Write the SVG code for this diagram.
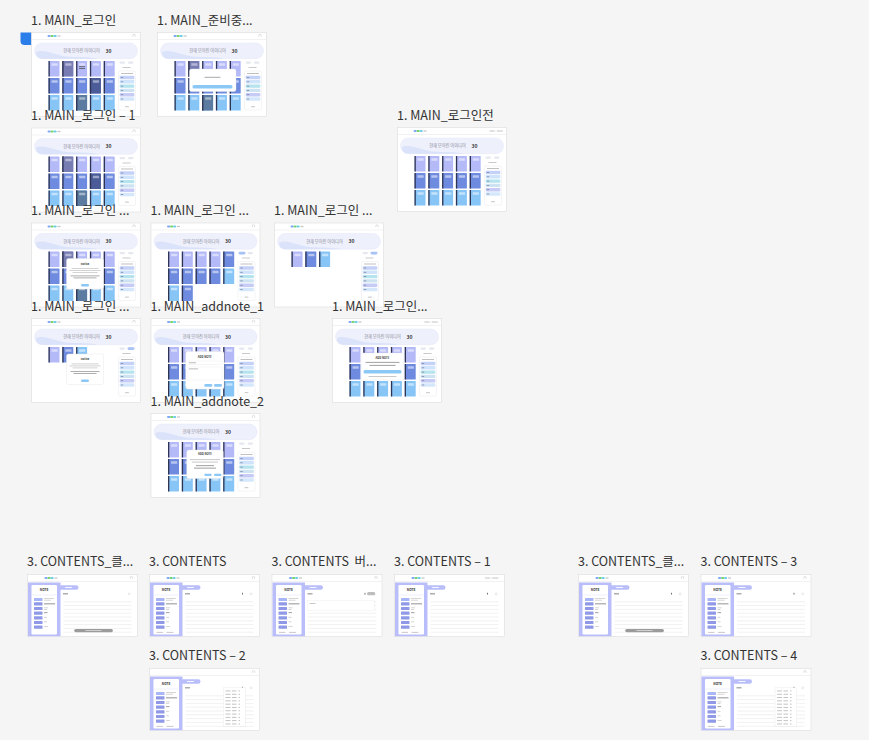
<svg xmlns="http://www.w3.org/2000/svg" width="869" height="740" viewBox="0 0 869 740">
<defs>
<style>
.lbl{font-family:"Noto Sans CJK KR","Noto Sans",sans-serif;font-size:12.5px;fill:#333;white-space:pre}
.t{font-family:"Noto Sans CJK KR","Noto Sans",sans-serif}
.mt{font-size:2.8px;font-weight:700;fill:#333;text-anchor:middle}
.md{fill:#fff;stroke:#e4e4e4;stroke-width:.4}
.bb{fill:#8cc8f5}
.g1{fill:#c8c8c8}
.g2{fill:#999}
.ln{stroke:#e3e3e3;stroke-width:.5}
</style>
<g id="cL"><rect width="11" height="15.5" rx=".6" fill="#b4b9f8"/><rect width="1.3" height="15.5" fill="#2f3452"/><rect x="3" y="2.2" width="6.2" height="2.6" rx=".4" fill="#fff" fill-opacity=".5"/></g>
<g id="cB"><rect width="11" height="15.5" rx=".6" fill="#6e8bdf"/><rect width="1.3" height="15.5" fill="#2f3452"/><rect x="3" y="2.2" width="6.2" height="2.6" rx=".4" fill="#fff" fill-opacity=".5"/></g>
<g id="cS"><rect width="11" height="15.5" rx=".6" fill="#88c5f7"/><rect width="1.3" height="15.5" fill="#2f3452"/><rect x="3" y="2.2" width="6.2" height="2.6" rx=".4" fill="#fff" fill-opacity=".5"/></g>
<g id="cDL"><rect width="11" height="15.5" rx=".6" fill="#777cb2"/><rect width="1.3" height="15.5" fill="#2f3452"/><rect x="3" y="2.2" width="6.2" height="2.6" rx=".4" fill="#fff" fill-opacity=".45"/></g>
<g id="cDB"><rect width="11" height="15.5" rx=".6" fill="#4b5c99"/><rect width="1.3" height="15.5" fill="#2f3452"/><rect x="3" y="2.2" width="6.2" height="2.6" rx=".4" fill="#fff" fill-opacity=".45"/></g>
<g id="cDS"><rect width="11" height="15.5" rx=".6" fill="#5b7ba0"/><rect width="1.3" height="15.5" fill="#2f3452"/><rect x="3" y="2.2" width="6.2" height="2.6" rx=".4" fill="#fff" fill-opacity=".45"/></g>
<g id="grid">
<use href="#cL" x="17" y="28.5"/><use href="#cL" x="30.8" y="28.5"/><use href="#cL" x="44.6" y="28.5"/><use href="#cL" x="58.4" y="28.5"/><use href="#cL" x="72.2" y="28.5"/>
<use href="#cB" x="17" y="45.5"/><use href="#cB" x="30.8" y="45.5"/><use href="#cB" x="44.6" y="45.5"/><use href="#cB" x="58.4" y="45.5"/><use href="#cB" x="72.2" y="45.5"/>
<use href="#cS" x="17" y="62.5"/><use href="#cS" x="30.8" y="62.5"/><use href="#cS" x="44.6" y="62.5"/><use href="#cS" x="58.4" y="62.5"/><use href="#cS" x="72.2" y="62.5"/>
</g>
<g id="logo"><rect x="16" y="2.5" width="3.2" height="2" rx="1" fill="#7ea8f7"/><rect x="19" y="2.5" width="3.2" height="2" rx="1" fill="#76d36d"/><rect x="22" y="2.5" width="3.2" height="2" rx="1" fill="#6ccfe6"/><rect x="26" y="2.9" width="3" height="1.2" fill="#c4c4c4"/></g>
<g id="uIcon"><path d="M-1.2 1.2V0A1.2 1.2 0 0 1 1.2 0V1.2" fill="none" stroke="#b0b0b0" stroke-width=".4"/></g>
<g id="loginTxt"><rect width="5" height="1" fill="#c4c4c4"/><rect x="6" width=".4" height="1" fill="#c4c4c4"/><rect x="7.3" width="6" height="1" fill="#c4c4c4"/></g>
<g id="mainBase">
<rect width="109" height="84" fill="#fff" stroke="#dcdcdc" stroke-width=".6"/>
<line x1="0" y1="7" x2="109" y2="7" stroke="#e4e4e4" stroke-width=".5"/>
<rect x="3" y="10.5" width="103" height="15.7" rx="7.8" fill="#eef0fc" stroke="#e0e4f7" stroke-width=".4"/>
<path d="M4.5 19.5C14 15.5 26 25 44 24.6C54 24.4 62 25.4 66 26.2L10 26.2C6 25.5 4.5 23 4.5 19.5Z" fill="#d6e0fa" opacity=".8"/>
<text class="t" x="50" y="19.9" font-size="4.2" fill="#8a8a96" text-anchor="middle">현재 모아진 아이디어</text>
<text class="t" x="74" y="20.3" font-size="5" font-weight="700" fill="#333">30</text>
<rect x="88" y="29" width="5.5" height="2.2" rx="1.1" fill="#e6e8ef"/>
<rect x="96.5" y="29" width="5.5" height="2.2" rx="1.1" fill="#e6e8ef"/>
<rect x="91" y="34.5" width="8" height="1" fill="#c9c9c9"/>
<rect x="87" y="38.5" width="17" height="39" rx="1.5" fill="#fff" stroke="#e2e4ec" stroke-width=".4"/>
<rect x="89.5" y="40.5" width="12" height="1" fill="#c0c0c0"/>
<rect x="88.2" y="43.3" width="14.6" height="3.4" rx=".7" fill="#c5d2f8"/>
<rect x="88.2" y="47.6" width="14.6" height="3.4" rx=".7" fill="#cfe4fb"/>
<rect x="88.2" y="51.9" width="14.6" height="3.4" rx=".7" fill="#b5e3ee"/>
<rect x="88.2" y="56.2" width="14.6" height="3.4" rx=".7" fill="#cde3f2"/>
<rect x="88.2" y="60.5" width="14.6" height="3.4" rx=".7" fill="#c6ccf5"/>
<rect x="88.2" y="64.8" width="14.6" height="3.4" rx=".7" fill="#d5e7fb"/>
<g fill="#7d84a8"><rect x="89.3" y="44.6" width="2.4" height=".8"/><rect x="89.3" y="48.9" width="2.4" height=".8"/><rect x="89.3" y="53.2" width="2.4" height=".8"/><rect x="89.3" y="57.5" width="2.4" height=".8"/><rect x="89.3" y="61.8" width="2.4" height=".8"/><rect x="89.3" y="66.1" width="2.4" height=".8"/></g>
<rect x="93.5" y="73.5" width="4" height="1.3" rx=".6" fill="#cfcfcf"/>
</g>
<g id="cBase">
<rect width="110" height="62" fill="#fff" stroke="#dcdcdc" stroke-width=".6"/>
<line x1="0" y1="7" x2="110" y2="7" stroke="#e4e4e4" stroke-width=".5"/>
<rect x=".5" y="8" width="32.5" height="53.7" fill="#b9befa"/>
<rect x="30" y="10.8" width="21" height="4.4" rx="2.2" fill="#b9befa"/>
<rect x="37.5" y="12.5" width="7" height="1" fill="#fff" opacity=".85"/>
<rect x="4" y="10.5" width="25.5" height="49.5" rx="1.2" fill="#fff"/>
<text class="t" x="16.7" y="16.4" font-size="3.2" font-weight="700" fill="#333" text-anchor="middle">NOTE</text>
<line x1="4.5" y1="20.5" x2="29" y2="20.5" stroke="#dfe2fb" stroke-width=".5"/>
<rect x="6.5" y="23.4" width="8.5" height="3.2" rx=".5" fill="#a8b6f7"/>
<rect x="6.5" y="27.8" width="8.5" height="3.2" rx=".5" fill="#8f99e7"/>
<rect x="6.5" y="32.4" width="8.5" height="3.2" rx=".5" fill="#8f99e7"/>
<rect x="6.5" y="37.1" width="8.5" height="3.2" rx=".5" fill="#8f99e7"/>
<rect x="6.5" y="41.7" width="8.5" height="3.2" rx=".5" fill="#8f99e7"/>
<rect x="6.5" y="46.4" width="8.5" height="3.2" rx=".5" fill="#8f99e7"/>
<rect x="6.5" y="51" width="8.5" height="3.2" rx=".5" fill="#8f99e7"/>
<g fill="#c4c4c4"><rect x="16.5" y="23.8" width="10" height=".7"/><rect x="16.5" y="25.3" width="7" height=".7"/><rect x="16.5" y="33" width="4" height=".7"/><rect x="16.5" y="34.5" width="3" height=".7"/><rect x="16.5" y="42.4" width="3" height=".7"/><rect x="16.5" y="47" width="3" height=".7"/><rect x="16.5" y="51.7" width="4" height=".7"/></g>
<rect x="16.5" y="28.9" width="11" height=".9" fill="#888"/>
<rect x="16.5" y="37.8" width="3.5" height=".8" fill="#888"/>
<rect x="35.5" y="18.7" width="5" height="1.2" fill="#9a9a9a"/>
<circle cx="101.7" cy="19.3" r="1" fill="none" stroke="#ccc" stroke-width=".4"/>
<g class="ln"><line x1="36" y1="27.3" x2="104" y2="27.3"/><line x1="36" y1="31.1" x2="104" y2="31.1"/><line x1="36" y1="34.9" x2="104" y2="34.9"/><line x1="36" y1="38.7" x2="104" y2="38.7"/><line x1="36" y1="42.5" x2="104" y2="42.5"/><line x1="36" y1="46.3" x2="104" y2="46.3"/><line x1="36" y1="50.1" x2="104" y2="50.1"/><line x1="36" y1="53.9" x2="104" y2="53.9"/><line x1="36" y1="57.7" x2="104" y2="57.7"/></g>
</g>
<g id="cFoot" fill="#bbb"><rect x="7" y="57.4" width="6.5" height=".8"/><rect x="17" y="57.4" width="7" height=".8"/></g>
<g id="cDrop"><rect x="74" y="19.3" width="21.7" height="38.4" fill="#fff" stroke="#e6e6e6" stroke-width=".4"/>
<g fill="#bdbdbd"><rect x="76" y="22" width="5" height=".9"/><rect x="82.5" y="22" width="4.5" height=".9"/><rect x="89" y="22" width="1.5" height=".9"/>
<rect x="76" y="25.3" width="5" height=".9"/><rect x="82.5" y="25.3" width="4.5" height=".9"/><rect x="89" y="25.3" width="1.5" height=".9"/>
<rect x="76" y="28.6" width="5" height=".9"/><rect x="82.5" y="28.6" width="4.5" height=".9"/><rect x="89" y="28.6" width="1.5" height=".9"/>
<rect x="76" y="31.9" width="5" height=".9"/><rect x="82.5" y="31.9" width="4.5" height=".9"/><rect x="89" y="31.9" width="1.5" height=".9"/>
<rect x="76" y="35.2" width="5" height=".9"/><rect x="82.5" y="35.2" width="4.5" height=".9"/><rect x="89" y="35.2" width="1.5" height=".9"/>
<rect x="76" y="38.5" width="5" height=".9"/><rect x="82.5" y="38.5" width="4.5" height=".9"/><rect x="89" y="38.5" width="1.5" height=".9"/>
<rect x="76" y="41.8" width="5" height=".9"/><rect x="82.5" y="41.8" width="4.5" height=".9"/><rect x="89" y="41.8" width="1.5" height=".9"/>
<rect x="76" y="45.1" width="5" height=".9"/><rect x="82.5" y="45.1" width="4.5" height=".9"/><rect x="89" y="45.1" width="1.5" height=".9"/>
<rect x="76" y="48.4" width="5" height=".9"/><rect x="82.5" y="48.4" width="4.5" height=".9"/><rect x="89" y="48.4" width="1.5" height=".9"/>
<rect x="76" y="51.7" width="5" height=".9"/><rect x="82.5" y="51.7" width="4.5" height=".9"/><rect x="89" y="51.7" width="1.5" height=".9"/>
<rect x="76" y="55" width="5" height=".9"/><rect x="82.5" y="55" width="4.5" height=".9"/><rect x="89" y="55" width="1.5" height=".9"/></g></g>
<g id="notice">
<rect class="md" x="35" y="35.5" width="37" height="30.5" rx="2"/>
<text class="t mt" x="53.5" y="41.6">notice</text>
<rect class="g1" x="40" y="45" width="27" height=".8"/><rect class="g1" x="38" y="47" width="31" height=".8"/><rect class="g1" x="41" y="49" width="25" height=".8"/>
<rect class="g2" x="39" y="52.5" width="29" height=".8"/><rect class="g2" x="42" y="54.5" width="23" height=".8"/>
<rect class="bb" x="49.5" y="61" width="8" height="2.4" rx="1.2"/>
</g>
</defs>
<rect width="869" height="740" fill="#f5f5f5"/>

<g id="f1">
<path d="M20.5 32.5H31.5V45H24.5A4 4 0 0 1 20.5 41Z" fill="#2b7de9"/>
<text class="lbl" x="31" y="24.5">1. MAIN_로그인</text>
<g transform="translate(31.5,32.5)"><use href="#mainBase"/><use href="#logo"/><use href="#uIcon" x="102.5" y="3"/><use href="#grid"/>
<use href="#cDL" x="30.8" y="28.5"/><use href="#cDB" x="58.4" y="45.5"/><use href="#cDS" x="44.6" y="62.5"/>
<rect x="47.5" y="33.8" width="6" height=".8" fill="#555"/><rect x="47.5" y="35.6" width="6" height=".8" fill="#555"/></g>
</g>
<g id="f2">
<text class="lbl" x="157" y="24.5">1. MAIN_준비중...</text>
<g transform="translate(157.5,32.5)"><use href="#mainBase"/><use href="#logo"/><use href="#uIcon" x="102.5" y="3"/><use href="#grid"/>
<use href="#cDL" x="30.8" y="28.5"/><use href="#cDS" x="44.6" y="62.5"/>
<rect class="md" x="32" y="36.5" width="46.5" height="22.5" rx="2"/>
<rect x="47" y="44.3" width="16" height="1" fill="#aaa"/>
<rect class="bb" x="35" y="52.5" width="40" height="3.6" rx="1.6"/></g>
</g>
<g id="f3">
<text class="lbl" x="31" y="120">1. MAIN_로그인 – 1</text>
<g transform="translate(31.5,128)"><use href="#mainBase"/><use href="#logo"/><use href="#uIcon" x="102.5" y="3"/><use href="#grid"/>
<use href="#cDL" x="30.8" y="28.5"/><use href="#cDB" x="58.4" y="45.5"/><use href="#cDS" x="44.6" y="62.5"/></g>
</g>
<g id="f4">
<text class="lbl" x="397" y="119.5">1. MAIN_로그인전</text>
<g transform="translate(397.5,127.5)"><use href="#mainBase"/><use href="#logo"/><use href="#loginTxt" x="92" y="3"/><use href="#grid"/></g>
</g>
<g id="f5">
<text class="lbl" x="31" y="215">1. MAIN_로그인 ...</text>
<g transform="translate(31.5,223)"><use href="#mainBase"/><use href="#logo"/><use href="#uIcon" x="102.5" y="3"/><use href="#grid"/>
<use href="#cDL" x="30.8" y="28.5"/><use href="#cDS" x="44.6" y="62.5"/><use href="#notice"/></g>
</g>
<g id="f6">
<text class="lbl" x="150.5" y="215">1. MAIN_로그인 ...</text>
<g transform="translate(151,223)"><use href="#mainBase"/><use href="#logo"/><use href="#uIcon" x="102.5" y="3"/>
<use href="#cL" x="17" y="28.5"/><use href="#cL" x="30.8" y="28.5"/><use href="#cL" x="44.6" y="28.5"/><use href="#cL" x="58.4" y="28.5"/><use href="#cB" x="72.2" y="28.5"/>
<use href="#cB" x="17" y="45.5"/><use href="#cB" x="30.8" y="45.5"/><use href="#cB" x="44.6" y="45.5"/><use href="#cB" x="58.4" y="45.5"/><use href="#cS" x="72.2" y="45.5"/>
<use href="#cS" x="17" y="62.5"/><use href="#cB" x="30.8" y="62.5"/>
<rect x="87.5" y="28.8" width="7" height="2.6" rx="1.3" fill="#a9c2f5"/></g>
</g>
<g id="f7">
<text class="lbl" x="274" y="215">1. MAIN_로그인 ...</text>
<g transform="translate(274.5,223)"><use href="#mainBase"/><use href="#logo"/><use href="#uIcon" x="102.5" y="3"/>
<use href="#cL" x="17" y="28.5"/><use href="#cB" x="30.8" y="28.5"/><use href="#cS" x="44.6" y="28.5"/>
<rect x="96" y="28.8" width="7" height="2.6" rx="1.3" fill="#a9c2f5"/></g>
</g>
<g id="f8">
<text class="lbl" x="31" y="310.5">1. MAIN_로그인 ...</text>
<g transform="translate(31.5,318.5)"><use href="#mainBase"/><use href="#logo"/><use href="#uIcon" x="102.5" y="3"/>
<use href="#cL" x="17" y="28.5"/><use href="#cB" x="30.8" y="28.5"/><use href="#cS" x="44.6" y="28.5"/>
<rect x="96" y="28.8" width="7" height="2.6" rx="1.3" fill="#a9c2f5"/><use href="#notice"/></g>
</g>
<g id="f9">
<text class="lbl" x="150.5" y="310.5">1. MAIN_addnote_1</text>
<g transform="translate(151,318.5)"><use href="#mainBase"/><use href="#logo"/><use href="#uIcon" x="102.5" y="3"/><use href="#grid"/>
<rect class="md" x="34.7" y="33" width="38.3" height="37.6" rx="2"/>
<text class="t mt" x="53.8" y="39.3">ADD NOTE</text>
<rect x="37" y="42.5" width="34" height="3.6" fill="#fff" stroke="#e2e2e2" stroke-width=".3"/><rect x="38" y="43.9" width="7" height=".8" fill="#aaa"/>
<rect x="37" y="48.5" width="34" height="13" fill="#fff" stroke="#e2e2e2" stroke-width=".3"/><rect x="38" y="50" width="9" height=".8" fill="#aaa"/>
<rect class="bb" x="53.3" y="65.6" width="8" height="2.6" rx="1.3"/><rect class="bb" x="63" y="65.6" width="8" height="2.6" rx="1.3"/></g>
</g>
<g id="f10">
<text class="lbl" x="332" y="310.5">1. MAIN_로그인...</text>
<g transform="translate(332.5,318.5)"><use href="#mainBase"/><use href="#logo"/><use href="#loginTxt" x="92" y="3"/><use href="#grid"/>
<rect class="md" x="28.5" y="34.5" width="43" height="27" rx="2"/>
<text class="t mt" x="50" y="40">ADD NOTE</text>
<rect x="33" y="43.4" width="34" height=".8" fill="#888"/><rect x="37" y="46.4" width="26" height=".8" fill="#888"/>
<rect class="bb" x="31" y="51.5" width="38" height="3.6" rx="1.5"/>
<rect x="36" y="57.6" width="28" height=".8" fill="#bbb"/></g>
</g>
<g id="f11">
<text class="lbl" x="150.5" y="405.5">1. MAIN_addnote_2</text>
<g transform="translate(151,413.5)"><use href="#mainBase"/><use href="#logo"/><use href="#uIcon" x="102.5" y="3"/><use href="#grid"/>
<rect class="md" x="35.7" y="36.5" width="36.6" height="28.5" rx="2"/>
<text class="t mt" x="54" y="41.5">ADD NOTE</text>
<rect x="39" y="45.8" width="30" height=".8" fill="#bbb"/><rect x="41" y="48.2" width="26" height=".8" fill="#bbb"/>
<rect x="45" y="51.8" width="18" height=".8" fill="#888"/><rect x="43" y="54.2" width="22" height=".8" fill="#888"/>
<rect class="bb" x="53.3" y="60.3" width="7.4" height="2.3" rx="1.1"/><rect class="bb" x="63" y="60.3" width="7.4" height="2.3" rx="1.1"/></g>
</g>

<g id="c1">
<text class="lbl" x="27" y="566">3. CONTENTS_클...</text>
<g transform="translate(27.5,574.5)"><use href="#cBase"/><use href="#logo" x="1"/><use href="#uIcon" x="104" y="3.2"/>
<rect x="46.7" y="54.5" width="38.7" height="3.2" rx="1.6" fill="#9b9b9b"/><rect x="58" y="55.7" width="16" height=".8" fill="#ddd"/></g>
</g>
<g id="c2">
<text class="lbl" x="149" y="566">3. CONTENTS</text>
<g transform="translate(149.5,574.5)"><use href="#cBase"/><use href="#logo" x="1"/><use href="#uIcon" x="104" y="3.2"/><use href="#cFoot"/>
<rect x="92.5" y="18.3" width="1" height="1.8" fill="#777"/></g>
</g>
<g id="c3">
<text class="lbl" x="271.5" y="566">3. CONTENTS  버...</text>
<g transform="translate(272,574.5)"><use href="#cBase"/><use href="#logo" x="1"/><use href="#uIcon" x="104" y="3.2"/><use href="#cFoot"/>
<rect x="92.5" y="18.3" width="1" height="1.8" fill="#777"/>
<rect x="95" y="17.6" width="8.3" height="3.2" rx="1.6" fill="#bdbdbd"/>
<rect x="35.6" y="25.7" width="66.7" height="10.3" fill="#fff" stroke="#e3e3e3" stroke-width=".3"/>
<rect x="37.5" y="28.5" width="6" height=".8" fill="#bbb"/></g>
</g>
<g id="c4">
<text class="lbl" x="394" y="566">3. CONTENTS – 1</text>
<g transform="translate(394.5,574.5)"><use href="#cBase"/><use href="#logo" x="1"/><use href="#loginTxt" x="90.5" y="3"/><use href="#cFoot"/>
<rect x="92.5" y="18.3" width="1" height="1.8" fill="#777"/></g>
</g>
<g id="c5">
<text class="lbl" x="578" y="566">3. CONTENTS_클...</text>
<g transform="translate(578.5,574.5)"><use href="#cBase"/><use href="#logo" x="1"/><use href="#uIcon" x="104" y="3.2"/>
<rect x="92.5" y="18.3" width="1" height="1.8" fill="#777"/>
<rect x="46.7" y="54.5" width="38.7" height="3.2" rx="1.6" fill="#9b9b9b"/><rect x="58" y="55.7" width="16" height=".8" fill="#ddd"/></g>
</g>
<g id="c6">
<text class="lbl" x="700.5" y="566">3. CONTENTS – 3</text>
<g transform="translate(701,574.5)"><use href="#cBase"/><use href="#logo" x="1"/><use href="#uIcon" x="104" y="3.2"/><use href="#cFoot"/>
<rect x="92.5" y="18.3" width="1" height="1.8" fill="#777"/></g>
</g>
<g id="c7">
<text class="lbl" x="149" y="660">3. CONTENTS – 2</text>
<g transform="translate(149.5,668.5)"><use href="#cBase"/><use href="#uIcon" x="104" y="3.2"/><use href="#cFoot"/>
<rect x="92.5" y="18.3" width="1" height="1.8" fill="#777"/><use href="#cDrop"/></g>
</g>
<g id="c8">
<text class="lbl" x="700.5" y="660">3. CONTENTS – 4</text>
<g transform="translate(701,668.5)"><use href="#cBase"/><use href="#uIcon" x="104" y="3.2"/><use href="#cFoot"/>
<rect x="92.5" y="18.3" width="1" height="1.8" fill="#777"/><use href="#cDrop"/></g>
</g>
<g id="connectors"/>
</svg>
